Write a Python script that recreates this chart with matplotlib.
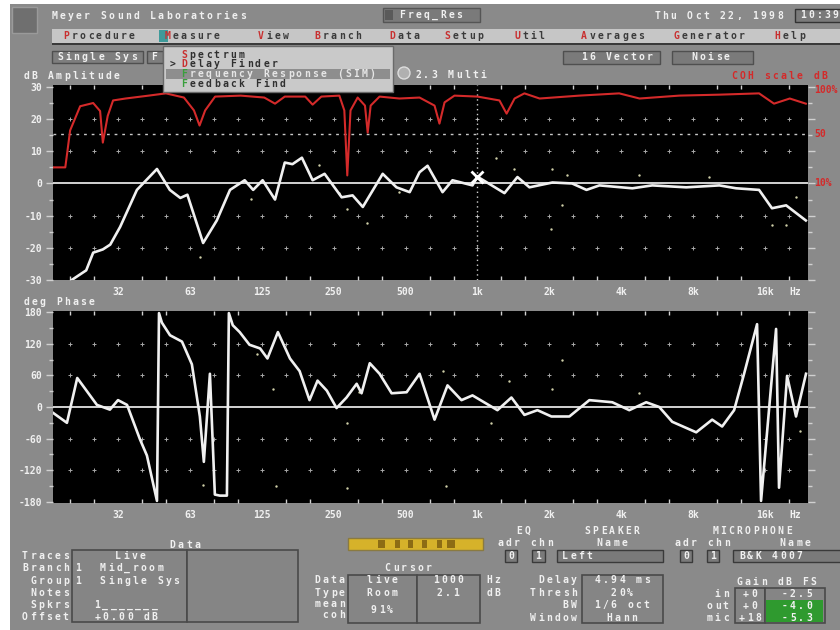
import numpy as np
import matplotlib
matplotlib.use("Agg")
import matplotlib.pyplot as plt
from matplotlib.patches import Rectangle, Circle
from matplotlib.ticker import FixedLocator, FixedFormatter, NullFormatter
from matplotlib.transforms import blended_transform_factory

plt.rcParams['font.family'] = ['DejaVu Sans Mono']

W, H = 840, 630

# transfer function magnitude, 1/6 oct smoothed (Hz, dB)
amp_freq = [20, 23, 24.6, 27, 29, 31.9, 37.5, 41, 45.5, 51.5, 57, 61, 71, 81,
            92, 106, 115, 126, 142, 156, 168, 184, 204, 229, 270, 300, 331,
            401, 458, 520, 572, 618, 714, 786, 953, 1000, 1297, 1470, 1650,
            2060, 2490, 2860, 3240, 4450, 5390, 7480, 10300, 12100, 15100,
            17100, 19600, 23700]
amp_db = [-30, -27, -21.5, -20.5, -19, -13.5, -2, 1, 4.5, -2, -4.5, -3.5,
          -18.5, -11.5, -2, 1, -2, 1, -5, 6.5, 6, 8, 1, 3, -4.3, -3.7, -7.3,
          3, -1.2, -2.7, 3.5, 5.5, -2.7, 1, -0.6, 2.1, -3, 2, -1.2, 0.3, 0,
          -2, -0.6, -1.5, -0.6, -1.2, -0.6, -1.5, -2, -7.7, -6.8, -11.5]

# coherence, drawn on the amplitude grid (top = 100%)
coh_freq = [16.7, 18.8, 19.7, 21.7, 24.6, 26.3, 27, 28.3, 29.8, 33.6, 42,
            49.6, 59, 65, 68.6, 72.4, 79.7, 102, 128, 142, 156, 190, 204, 222,
            264, 277, 285, 294, 315, 338, 347, 357, 389, 471, 572, 661, 693,
            728, 801, 1000, 1236, 1324, 1430, 1572, 1820, 2670, 3920, 4770,
            6990, 10300, 15100, 17440, 20300, 23700]
coh_level = [5, 5, 16.5, 24, 25, 22.5, 12.7, 21, 25.8, 26.4, 27.3, 28, 26.7,
             22.7, 18, 22.7, 27, 27.3, 26.7, 24.8, 27, 27, 24.5, 27, 27.3,
             22.7, 2.5, 22.7, 26.7, 24.2, 15.8, 24.2, 27, 26.4, 26.7, 24.2,
             18.6, 25.2, 27.3, 27, 25.8, 21.7, 26.4, 28, 26.4, 27.3, 28, 26.4,
             27.3, 27.6, 28, 24.8, 26.4, 24.8]

# phase (Hz, deg), wrapped to +/-180
phase_freq = [16.7, 19.1, 21.1, 25.5, 28.9, 31.25, 34.1, 38.6, 41.3, 45.5,
              46.4, 47.7, 51.6, 57.9, 63.7, 68.8, 71.5, 75.8, 79.5, 83.4, 89.3,
              91.0, 94.5, 101, 111, 123, 132, 146, 164, 180, 198, 214, 234,
              257, 283, 312, 327, 354, 389, 437, 505, 572, 661, 749, 857, 953,
              1212, 1387, 1572, 1782, 2040, 2425, 2940, 3668, 4320, 5088,
              5768, 6535, 8237, 9607, 10575, 11870, 13070, 14810, 15390,
              17790, 18300, 19780, 21560, 23740]
phase_deg = [-11, -30, 55, 4, -5, 13, 4, -61, -92, -178, 178, 160, 136, 124,
             81, -18, -104, 63, -166, -168, -168, 178, 155, 142, 118, 111, 92,
             142, 92, 68, 13, 50, 31, -2, 18, 44, 26, 83, 63, 26, 28, 63, -24,
             41, 13, 22, -6, 18, -15, -6, -18, -18, 13, 9, -6, 9, 0, -28, -48,
             -24, -37, -6, 63, 157, -178, 148, -153, 59, -18, 63]

# unsmoothed points left around the traces
raw_amp_freq = [68.8, 113, 218, 264, 285, 345, 469, 1200, 1420, 2040, 2060,
                2250, 2380, 4750, 9300, 17100, 19600, 21500]
raw_amp_db = [-23, -4.7, 5.6, -3.1, -7.8, -12.4, -2.5, 8, 4.6, -14, 4.6,
              -6.8, 2.5, 2.5, 1.9, -13, -13, -4.3]
raw_phase_freq = [71, 119, 139, 144, 283, 285, 320, 714, 740, 1140, 1350,
                  2060, 2250, 4750, 22300]
raw_phase_deg = [-148, 101, 35, -150, -30, -153, 28, 68, -150, -30, 50, 35,
                 90, 26, -46]

cursor_hz, cursor_db = 1000, 2.1
coh_half = 15.5

oct_ticks = [31.25, 62.5, 125, 250, 500, 1000, 2000, 4000, 8000, 16000, 21500]
oct_labels = ["32", "63", "125", "250", "500", "1k", "2k", "4k", "8k", "16k", "Hz"]
amp_ticks = [30, 20, 10, 0, -10, -20, -30]
phase_ticks = [180, 120, 60, 0, -60, -120, -180]
coh_ticks = [29, coh_half, 0]
coh_labels = ["100%", "50", "10%"]

GREY = '#8a8a8a'
LIGHT = '#f0f0f0'
RED = '#d42a2a'


def rect(x0, y0, x1, y1):
    return [x0 / W, 1 - y1 / H, (x1 - x0) / W, (y1 - y0) / H]


fig = plt.figure(figsize=(8.4, 6.3), dpi=100, facecolor=GREY)

thirds = 31.25 * 2 ** (np.arange(-2, 30) / 3)
thirds = thirds[(thirds > 17) & (thirds < 24000)]


def setup(ax, ylim, yticks, minor):
    ax.set_facecolor('black')
    ax.set_xscale('log')
    ax.set_xlim(16.7, 24200)
    ax.set_ylim(*ylim)
    for s in ax.spines.values():
        s.set_visible(False)
    ax.xaxis.set_major_locator(FixedLocator(oct_ticks))
    ax.xaxis.set_major_formatter(FixedFormatter(oct_labels))
    ax.xaxis.set_minor_locator(FixedLocator(thirds))
    ax.xaxis.set_minor_formatter(NullFormatter())
    ax.set_yticks(yticks)
    ax.set_yticklabels([str(t) for t in yticks])
    ax.yaxis.set_minor_locator(FixedLocator(minor))
    ax.tick_params(axis='x', which='major', length=0, pad=5, labelcolor=LIGHT, labelsize=7)
    ax.tick_params(axis='x', which='minor', direction='in', top=True, bottom=True,
                   length=3, width=1, color='#d0d0d0')
    ax.tick_params(axis='y', which='both', direction='out', left=True, right=True,
                   color='#d0d0d0', labelcolor=LIGHT, labelsize=7, pad=3, width=1)
    ax.tick_params(axis='y', which='major', length=5)
    ax.tick_params(axis='y', which='minor', length=3)
    for lab in ax.get_xticklabels() + ax.get_yticklabels():
        lab.set_fontweight('bold')


# amplitude panel
ax1 = fig.add_axes(rect(53, 85, 808, 280))
setup(ax1, (-30, 30.6), amp_ticks, np.arange(-25, 30, 5))
gx, gy = np.meshgrid(thirds, [20, 10, -10, -20])
ax1.scatter(gx.ravel(), gy.ravel(), marker='+', s=5, lw=0.7, color='#a8a8a8', zorder=1)
ax1.axhline(0, color='#e2e2e2', lw=1.3, zorder=2)
ax1.axhline(coh_half, color='#c8c8c8', lw=1.0, ls=(0, (2, 3.5)), zorder=2)
ax1.axvline(cursor_hz, color='#d0d0d0', lw=1.0, ls=(0, (1, 2.5)), zorder=2)
ax1.plot(coh_freq, coh_level, color=RED, lw=1.5, zorder=3)
ax1.scatter(raw_amp_freq, raw_amp_db, s=3, color='#cfcfa8', lw=0, zorder=3)
ax1.plot(amp_freq, amp_db, color=LIGHT, lw=1.9, zorder=4, solid_joinstyle='round')
ax1.plot(cursor_hz, cursor_db, marker='x', ms=8, mew=2, color='white', zorder=5)
tr = blended_transform_factory(ax1.transAxes, ax1.transData)
for v, s in zip(coh_ticks, coh_labels):
    ax1.text(1.008, v, s, transform=tr, color=RED, fontsize=7, fontweight='bold',
             va='center', ha='left', clip_on=False)

# phase panel
ax2 = fig.add_axes(rect(53, 311, 808, 503))
setup(ax2, (-182, 182), phase_ticks, np.arange(-150, 180, 30))
gx, gy = np.meshgrid(thirds, [120, 60, -60, -120])
ax2.scatter(gx.ravel(), gy.ravel(), marker='+', s=5, lw=0.7, color='#a8a8a8', zorder=1)
ax2.axhline(0, color='#e2e2e2', lw=1.3, zorder=2)
ax2.scatter(raw_phase_freq, raw_phase_deg, s=3, color='#cfcfa8', lw=0, zorder=3)
ax2.plot(phase_freq, phase_deg, color=LIGHT, lw=1.9, zorder=4, solid_joinstyle='round')

# screen furniture drawn over everything
ov = fig.add_axes([0, 0, 1, 1])
ov.set_xlim(0, W)
ov.set_ylim(H, 0)
ov.axis('off')
ov.patch.set_alpha(0)


def box(x0, y0, x1, y1, fc='#808080', ec='#4a4a4a', lw=1.0, z=1):
    ov.add_patch(Rectangle((x0, y0), x1 - x0, y1 - y0, facecolor=fc,
                           edgecolor=ec, lw=lw, zorder=z))


def mono(x, y, s, color=LIGHT, ha='left', first=None, pitch=8.2, size=7, z=3):
    if ha == 'right':
        x -= len(s) * pitch
    elif ha == 'center':
        x -= len(s) * pitch / 2
    for i, ch in enumerate(s):
        c = first if (i == 0 and first) else color
        ov.text(x + i * pitch + pitch / 2, y, ch, color=c, ha='center', va='center',
                fontsize=size, fontweight='bold', zorder=z)


# white margin of the screen grab
box(0, 0, 10, H, fc='white', ec='none', z=0)
box(0, 0, W, 4, fc='white', ec='none', z=0)

# title bar
box(12, 7, 37, 33, fc='#6f6f6f', ec='#9a9a9a')
mono(50, 16, "Meyer Sound Laboratories")
box(383, 8, 480, 22, fc='#7a7a7a', ec='#555555')
box(385, 10, 393, 20, fc='#5a5a5a', ec='none', z=2)
mono(398, 15, "Freq_Res")
mono(653, 16, "Thu Oct 22, 1998")
box(795, 9, 842, 22, fc='#7a7a7a', ec='#333333')
mono(799, 15, "10:39")

# menu bar
box(52, 29, 842, 43, fc='#c6c6c6', ec='none')
box(52, 43, 842, 45, fc='#3a3a3a', ec='none')
box(159, 30, 168, 42, fc='#3f9a9a', ec='none', z=2)
menu = [(62, "Procedure"), (163, "Measure"), (257, "View"), (313, "Branch"),
        (388, "Data"), (443, "Setup"), (513, "Util"), (580, "Averages"),
        (672, "Generator"), (773, "Help")]
for x, s in menu:
    mono(x, 36, s, color='#3a3a3a', first='#c83030')

# second row
box(52, 51, 143, 63, fc='#7e7e7e', ec='#4f4f4f')
mono(56, 57, "Single Sys")
box(147, 51, 163, 63, fc='#7e7e7e', ec='#4f4f4f')
mono(150, 57, "F")
box(563, 51, 660, 64, fc='#7a7a7a', ec='#4f4f4f')
mono(580, 57, "16 Vector")
box(672, 51, 753, 64, fc='#7a7a7a', ec='#4f4f4f')
mono(690, 57, "Noise")

# Measure pull-down
box(163, 46, 393, 92, fc='#c9c9c9', ec='#6a6a6a', z=4)
box(166, 69, 390, 79, fc='#8e8e8e', ec='none', z=4)
mono(180, 55, "Spectrum", color='#303030', first='#c83030', z=5)
mono(168, 64, ">", color='#303030', z=5)
mono(180, 64, "Delay Finder", color='#303030', first='#c83030', z=5)
mono(180, 74, "Frequency Response (SIM)", color='#e6e6e6', first='#39a03c', z=5)
mono(180, 84, "Feedback Find", color='#303030', first='#39a03c', z=5)

ov.add_patch(Circle((404, 73), 6, facecolor='#b0b0b0', edgecolor='#dddddd', lw=1, zorder=4))
mono(414, 75, "2.3 Multi")
mono(22, 76, "dB Amplitude")
mono(730, 76, "COH scale dB", color=RED)
mono(22, 302, "deg Phase")

# Data block
mono(185, 545, "Data", ha='center')
box(72, 550, 187, 622, fc='#858585', ec='#4a4a4a', lw=1.2)
box(187, 550, 298, 622, fc='#858585', ec='#4a4a4a', lw=1.2)
rows = [556, 568, 581, 593, 605, 617]
for y, s in zip(rows, ["Traces", "Branch", "Group", "Notes", "Spkrs", "Offset"]):
    mono(70, y, s, ha='right')
mono(130, 556, "Live", ha='center')
mono(74, 568, "1  Mid_room")
mono(74, 581, "1  Single Sys")
mono(93, 605, "1_______")
mono(93, 617, "+0.00 dB")

# level bar
box(348, 538, 483, 550, fc='#d6b22a', ec='#8a7a40')
for x0, x1 in [(378, 385), (395, 400), (408, 413), (422, 427), (437, 442), (447, 455)]:
    box(x0, 540, x1, 548, fc='#8c6c14', ec='none', z=2)

# Cursor block
mono(408, 568, "Cursor", ha='center')
box(348, 575, 417, 623, fc='#858585', ec='#4a4a4a', lw=1.2)
box(417, 575, 480, 623, fc='#858585', ec='#4a4a4a', lw=1.2)
for y, s in zip([580, 593, 604, 615], ["Data", "Type", "mean", "coh"]):
    mono(346, y, s, ha='right')
mono(382, 580, "live", ha='center')
mono(382, 593, "Room", ha='center')
mono(382, 610, "91%", ha='center')
mono(448, 580, str(cursor_hz), ha='center')
mono(448, 593, str(cursor_db), ha='center')
mono(485, 580, "Hz")
mono(485, 593, "dB")

# EQ / speaker / microphone
mono(523, 531, "EQ", ha='center')
mono(525, 543, "adr chn", ha='center')
box(505, 550, 517, 562, fc='#7a7a7a', ec='#3a3a3a')
mono(511, 556, "0", ha='center')
box(532, 550, 545, 562, fc='#7a7a7a', ec='#3a3a3a')
mono(538, 556, "1", ha='center')
mono(612, 531, "SPEAKER", ha='center')
mono(612, 543, "Name", ha='center')
box(557, 550, 663, 562, fc='#7a7a7a', ec='#3a3a3a')
mono(561, 556, "Left")
mono(752, 531, "MICROPHONE", ha='center')
mono(702, 543, "adr chn", ha='center')
mono(795, 543, "Name", ha='center')
box(680, 550, 692, 562, fc='#7a7a7a', ec='#3a3a3a')
mono(686, 556, "0", ha='center')
box(707, 550, 719, 562, fc='#7a7a7a', ec='#3a3a3a')
mono(713, 556, "1", ha='center')
box(733, 550, 842, 562, fc='#7a7a7a', ec='#3a3a3a')
mono(738, 556, "B&K 4007")

# analysis settings
box(582, 575, 663, 623, fc='#858585', ec='#4a4a4a', lw=1.2)
for y, s, v in zip([580, 593, 605, 618], ["Delay", "Thresh", "BW", "Window"],
                   ["4.94 ms", "20%", "1/6 oct", "Hann"]):
    mono(578, y, s, ha='right')
    mono(622, y, v, ha='center')

# gain block
mono(776, 582, "Gain dB FS", ha='center')
box(735, 588, 765, 623, fc='#858585', ec='#4a4a4a', lw=1.2)
box(765, 588, 825, 623, fc='#858585', ec='#4a4a4a', lw=1.2)
box(766, 600, 823, 622, fc='#2f9a2f', ec='none', z=2)
for y, s, a, b in zip([594, 606, 618], ["in", "out", "mic"],
                      ["+0", "+0", "+18"], ["-2.5", "-4.0", "-5.3"]):
    mono(730, y, s, ha='right')
    mono(750, y, a, ha='center')
    mono(797, y, b, ha='center')

fig.savefig('out.png', dpi=100, facecolor=GREY)
